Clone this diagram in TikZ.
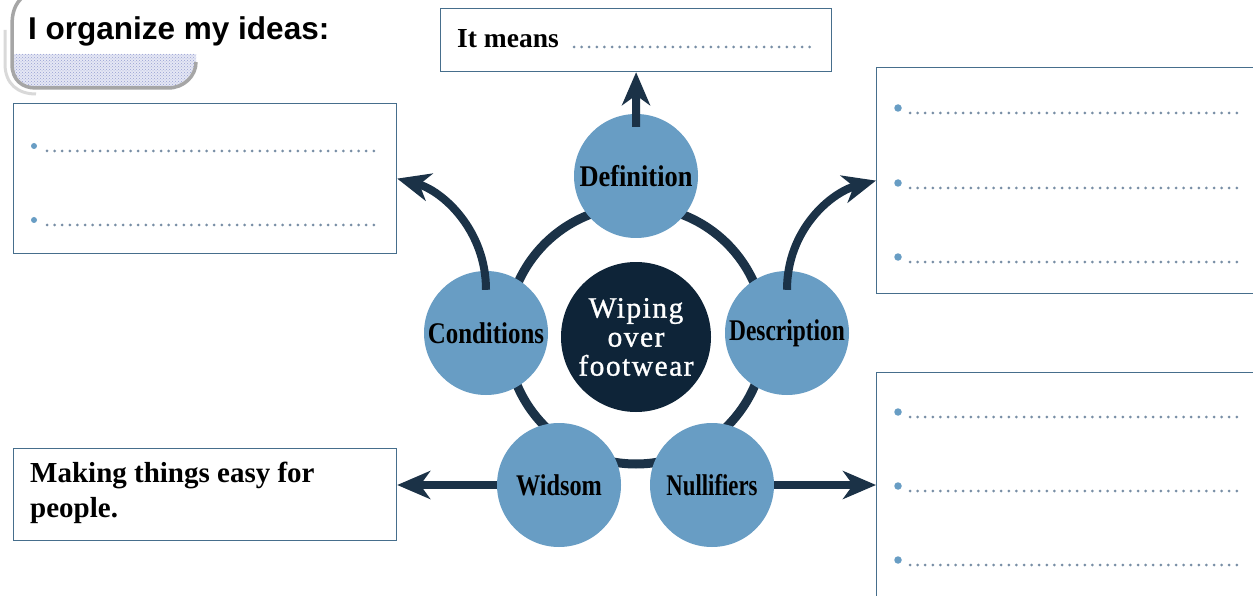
\documentclass[tikz,border=0pt]{standalone}
\usepackage{fontspec}
\usepackage{graphicx}
\setmainfont{Liberation Serif}
\newfontfamily\headfont{Liberation Sans}
\newfontfamily\corefont[LetterSpace=5,FakeBold=1]{Liberation Serif}
\usetikzlibrary{arrows.meta,patterns}
\definecolor{navy}{RGB}{27,50,71}
\definecolor{corefill}{RGB}{14,36,56}
\definecolor{petalfill}{RGB}{104,157,196}
\definecolor{frame}{RGB}{70,110,140}
\definecolor{dotc}{RGB}{120,142,165}
\definecolor{lav}{RGB}{150,160,210}
\begin{document}
\begin{tikzpicture}[x=1pt,y=-1pt,
  petal/.style={circle,fill=petalfill,minimum size=124pt,inner sep=0pt,
    font=\fontsize{30}{32}\selectfont\bfseries},
  ringc/.style={circle,draw=navy,line width=9pt,minimum size=258pt,inner sep=0pt},
  corec/.style={circle,fill=corefill,minimum size=150pt,text=white,align=center,
    inner sep=0pt,font=\corefont\fontsize{29.5}{29}\selectfont},
  answer/.style={draw=frame,line width=1.2pt,fill=white,inner sep=0pt,anchor=north west},
  link/.style={draw=navy,line width=8pt,-{Stealth[length=33pt,width=28pt,inset=10pt]}},
  dotline/.style={dotc,line width=3pt,line cap=round,dash pattern=on 0pt off 7.6pt},
  bullet/.style={circle,fill=petalfill,inner sep=0pt,minimum size=7.5pt},
  tabedge/.style={draw=gray!70,line width=3.5pt},
  lbl/.style={inner sep=0pt},
]
\useasboundingbox[fill=white] (0,0) rectangle (1253,596);

% heading tab
\begin{scope}
  \clip (12,-5) -- (196,-5) -- (196,62) .. controls (196,76) and (184,88) .. (168,88)
        -- (36,88) .. controls (22,88) and (12,80) .. (12,64) -- cycle;
  \fill[lav!25] (0,54) rectangle (200,92);
  \fill[pattern=crosshatch dots,pattern color=lav] (0,54) rectangle (200,92);
\end{scope}
\draw[draw=gray!30,line width=3pt] (5,30) -- (5,64) .. controls (5,84) and (18,94) .. (36,94);
\draw[tabedge] (24,-4) .. controls (14,4) and (12,14) .. (12,26) -- (12,64)
      .. controls (12,80) and (22,88) .. (36,88) -- (168,88)
      .. controls (184,88) and (196,76) .. (196,62);
\node[lbl,anchor=base west,font=\headfont\bfseries\fontsize{31.5}{33}\selectfont]
  (title) at (28,40) {I organize my ideas:};

% answer boxes
\node[answer,minimum width=391pt,minimum height=63pt] (meanbox) at (440,8) {};
\node[answer,minimum width=383pt,minimum height=150pt] (condbox) at (13,103) {};
\node[answer,minimum width=400pt,minimum height=226pt] (descbox) at (876,67) {};
\node[answer,minimum width=400pt,minimum height=240pt] (nullbox) at (876,372) {};
\node[answer,minimum width=383pt,minimum height=92pt] (wisbox) at (13,448) {};

\node[lbl,anchor=base west,font=\fontsize{27.5}{30}\selectfont\bfseries]
  (meantext) at (457,48) {It means};
\draw[dotline] (574,47) -- (814,47);

\node[lbl,anchor=north west,align=left,font=\fontsize{29}{35}\selectfont\bfseries]
  (wistext) at (30,462) {Making things easy for\\people.};

% blank answer lines
\foreach \y [count=\i] in {151,225} {
  \node[bullet,minimum size=6pt] (cb\i) at (34,\y-5) {};
  \draw[dotline] (47,\y) -- (378,\y);
}
\foreach \y [count=\i] in {113,188,262} {
  \node[bullet] (db\i) at (898,\y-5) {};
  \draw[dotline] (910,\y) -- (1240,\y);
}
\foreach \y [count=\i] in {417,491,565} {
  \node[bullet] (nb\i) at (898,\y-5) {};
  \draw[dotline] (910,\y) -- (1240,\y);
}

% wheel
\node[ringc] (ring) at (636,335) {};
\node[corec] (core) at (636,337) {Wiping\\over\\footwear};
\node[petal] (def) at (636,176) {\scalebox{0.88}[1]{Definition}};
\node[petal] (cond) at (486,333) {\scalebox{0.83}[1]{Conditions}};
\node[petal] (desc) at (787,333) {\scalebox{0.78}[1]{Description}};
\node[petal] (wis) at (559,485) {\scalebox{0.81}[1]{Widsom}};
\node[petal] (null) at (712,485) {\scalebox{0.76}[1]{Nullifiers}};

% arrows out to the boxes
\draw[link] ([yshift=-13pt]def.north) -- (meanbox.south);
\draw[link] ([yshift=-19pt]cond.north) .. controls +(0,-60) and +(45,12) .. (condbox.east);
\draw[link] ([yshift=-19pt]desc.north) .. controls +(0,-60) and +(-45,12) .. (descbox.west);
\draw[link] (wis.west) -- (wis.west -| wisbox.east);
\draw[link] (null.east) -- (null.east -| nullbox.west);
\end{tikzpicture}
\end{document}
